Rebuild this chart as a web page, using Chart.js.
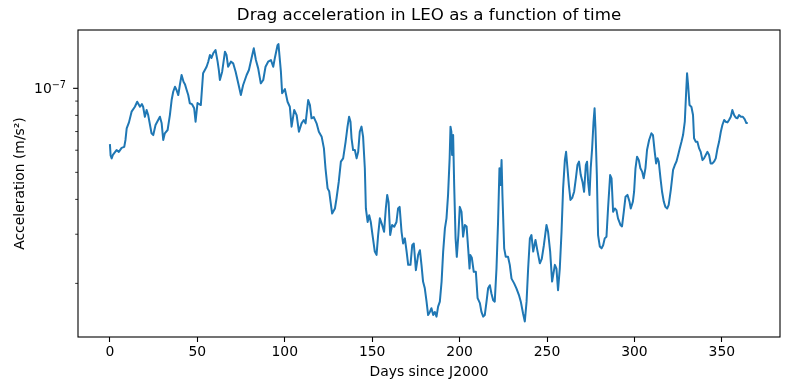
<!DOCTYPE html>
<html>
<head>
<meta charset="utf-8">
<script src="https://cdn.jsdelivr.net/npm/chart.js@4/dist/chart.umd.min.js"></script>
<style>
html,body{margin:0;padding:0;background:#fff;}
#wrap{width:790px;height:390px;}
</style>
</head>
<body>
<div id="wrap"><canvas id="c" width="790" height="390"></canvas></div>
<script>
// ---- data ----
const titleText = 'Drag acceleration in LEO as a function of time';
const xLabel = 'Days since J2000';
const yLabel = 'Acceleration (m/s\u00B2)';

// days since J2000
const days = [
0,0.4,1.0,1.7,3.8,5.1,6.7,8.2,8.9,9.6,10.9,12.4,14.3,15.6,17.2,18.3,19.0,20.0,21.0,21.9,
23.8,24.8,26.1,27.6,28.6,29.6,30.5,31.4,33.0,34.3,35.3,36.2,37.2,38.1,39.1,40.0,41.0,42.1,42.9,43.9,
44.8,45.7,46.9,48.2,49.0,50.1,52.0,53.3,54.3,55.3,56.2,57.2,58.1,59.1,60.4,61.6,62.3,62.9,64.2,65.8,
66.7,67.6,69.2,70.5,71.9,73.4,74.9,76.2,78.2,79.5,81.0,82.3,83.5,84.8,86.3,87.7,89.0,90.5,92.1,93.4,
94.3,95.9,96.4,97.8,98.5,100.1,101.6,102.9,103.9,105.4,106.8,108.1,109.6,110.9,111.9,113.4,114.4,115.3,116.6,118.2,
119.5,121.1,122.4,123.3,124.5,125.4,126.2,127.1,128.7,129.6,130.9,132.1,133.4,134.8,135.9,136.8,137.6,138.2,139.1,140.1,
141.1,142.0,142.9,143.9,144.8,145.8,146.4,147.4,148.3,149.2,150.2,151.5,152.5,153.4,154.4,155.7,156.8,157.8,158.6,159.4,
160.3,161.4,162.6,163.9,164.8,165.7,166.8,167.7,168.7,169.7,170.6,171.9,172.9,173.8,175.0,176.3,177.3,178.2,179.1,180.1,
181.1,182.0,183.0,183.9,184.9,185.8,186.8,187.7,188.7,189.7,190.6,191.6,192.5,193.4,194.3,194.8,195.3,195.7,196.3,196.9,
197.7,198.4,199.3,200.1,201.1,202.0,203.0,204.0,204.9,205.7,206.1,207.0,208.1,209.3,210.3,211.6,212.5,213.5,214.4,215.4,
216.3,217.3,218.2,219.2,220.1,221.1,222.0,222.8,223.4,224.0,224.5,225.5,226.4,227.7,228.7,229.7,231.2,232.5,233.9,235.0,
236.3,237.3,238.3,239.2,240.2,241.1,242.1,243.4,244.6,245.9,247.0,248.2,249.7,250.6,251.8,252.9,254.5,255.4,256.3,257.3,
258.3,259.2,260.2,260.9,261.7,262.5,263.4,264.4,265.5,266.5,267.4,268.3,269.3,270.3,271.2,272.2,272.9,273.5,274.3,275.0,
275.8,276.6,277.2,277.7,278.5,279.2,280.2,281.2,282.1,283.0,284.0,284.9,286.1,286.9,287.8,288.8,289.7,290.6,292.0,292.9,
293.9,294.9,296.0,297.2,297.9,299.1,299.8,300.6,301.5,302.5,303.4,304.4,305.3,306.3,307.2,308.4,309.7,310.6,311.6,312.4,
313.2,313.9,314.9,315.8,316.8,317.7,318.7,319.6,320.8,322.1,323.1,324.0,325.0,325.9,326.9,327.8,328.8,329.5,330.1,330.7,
331.5,332.6,333.5,334.1,335.1,336.0,337.0,337.9,338.9,339.8,340.8,341.7,342.7,343.6,344.6,345.5,346.5,347.5,348.4,349.4,
350.3,351.3,352.2,353.2,354.1,355.1,356.0,357.0,357.9,358.9,359.8,360.9,362.0,363.1,364.0,364.8
];

// drag acceleration, in units of 1e-8 m/s^2
const accelE8 = [
6.31,5.75,5.61,5.77,6.01,5.92,6.12,6.17,6.53,7.19,7.55,8.25,8.59,8.95,8.59,8.78,8.59,7.91,8.36,8.02,
6.90,6.80,7.39,7.70,7.91,7.49,6.53,6.90,7.09,8.02,9.08,9.72,10.13,9.86,9.46,10.28,11.16,10.56,10.35,9.86,
9.46,8.84,8.78,8.48,7.59,8.86,8.71,11.32,11.63,11.95,12.43,13.16,12.84,13.35,13.72,12.46,11.63,10.71,11.47,13.53,
13.16,11.95,12.46,12.29,11.47,10.42,9.46,10.28,11.16,11.63,12.81,13.91,12.63,11.79,10.42,10.71,11.95,12.46,12.63,11.95,
12.81,14.29,14.41,11.47,9.60,9.93,8.95,8.59,7.29,8.36,8.02,6.99,7.49,7.70,7.49,9.08,8.71,7.81,7.89,7.49,
6.99,6.71,6.09,5.17,4.38,4.28,3.92,3.56,3.71,4.03,4.63,5.46,5.61,6.43,7.29,7.91,7.59,6.62,6.01,6.01,
5.61,5.92,6.99,7.29,6.71,5.17,3.71,3.32,3.51,3.32,2.98,2.60,2.53,2.98,3.42,3.24,3.06,3.71,4.15,3.90,
2.98,3.24,3.19,3.32,3.71,3.76,3.06,2.78,2.90,2.60,2.33,2.33,2.74,2.78,2.23,2.53,2.63,2.33,2.03,1.92,
1.72,1.54,1.58,1.63,1.54,1.58,1.52,1.65,1.72,2.03,2.60,3.15,3.42,4.15,5.61,7.29,6.99,5.77,6.80,4.50,
2.90,2.49,2.98,3.76,3.61,2.94,3.24,3.20,2.67,2.26,2.53,2.47,2.20,2.20,1.77,1.70,1.58,1.52,1.54,1.72,
1.92,1.97,1.84,1.74,1.72,2.26,3.32,5.17,4.50,5.53,4.15,2.67,2.49,2.49,2.33,2.08,2.00,1.92,1.82,1.72,
1.56,1.46,1.72,2.26,2.90,2.98,2.60,2.86,2.60,2.36,2.45,2.74,3.24,3.06,2.60,2.03,2.33,2.26,1.89,2.26,
3.06,4.38,5.53,5.92,5.17,4.50,3.98,4.05,4.26,4.76,5.31,5.46,4.89,4.62,4.26,5.31,5.46,4.63,4.15,5.18,
6.09,7.59,8.48,7.19,4.89,2.98,2.71,2.67,2.74,2.90,2.94,3.71,4.89,4.76,3.61,3.71,3.66,3.42,3.24,3.20,
3.61,4.09,4.15,3.92,3.71,3.92,4.26,5.17,5.69,5.53,5.17,5.03,4.76,5.18,6.01,6.53,6.90,6.80,5.92,5.38,
5.62,5.46,4.76,4.26,3.92,3.76,3.71,3.82,4.33,5.10,5.31,5.46,5.77,6.09,6.43,6.80,7.59,9.46,11.32,10.28,
8.71,8.57,8.02,6.62,6.43,6.43,6.09,5.92,5.53,5.61,5.77,5.92,5.77,5.38,5.38,5.46,5.61,6.09,6.43,6.99,
7.39,7.70,7.59,7.55,7.70,7.91,8.36,8.02,7.86,7.81,8.02,7.91,7.91,7.74,7.51,7.51
];

// axis ticks
const xTickValues = [0, 50, 100, 150, 200, 250, 300, 350];
const yMajorTicks = [1e-7];
const yMajorLabels = [['10', '\u22127']];
const yMinorTicks = [2e-8, 3e-8, 4e-8, 5e-8, 6e-8, 7e-8, 8e-8, 9e-8];

// axis limits (matplotlib-style 5% margins)
const xMin = -18.25, xMax = 383.25;
const yMin = 1.285e-8, yMax = 1.618e-7;

// ---- chart ----
const FONT = 'DejaVu Sans';
Chart.defaults.font.family = FONT;
Chart.defaults.color = '#000';

const points = days.map((d, i) => ({ x: d, y: accelE8[i] * 1e-8 }));

const framePlugin = {
  id: 'frame',
  afterDraw(chart) {
    const { ctx, chartArea: a } = chart;
    const y = chart.scales.y;
    ctx.save();
    ctx.strokeStyle = '#000';
    ctx.lineWidth = 1.1;
    ctx.strokeRect(a.left, a.top, a.right - a.left, a.bottom - a.top);
    // minor y ticks
    ctx.lineWidth = 0.8;
    yMinorTicks.forEach(v => {
      const py = y.getPixelForValue(v);
      ctx.beginPath(); ctx.moveTo(a.left - 2.8, py); ctx.lineTo(a.left, py); ctx.stroke();
    });
    // major y ticks + labels
    ctx.lineWidth = 1.1;
    yMajorTicks.forEach((v, i) => {
      const py = y.getPixelForValue(v);
      ctx.beginPath(); ctx.moveTo(a.left - 4.9, py); ctx.lineTo(a.left, py); ctx.stroke();
      const [base, exp] = yMajorLabels[i];
      ctx.fillStyle = '#000';
      ctx.textBaseline = 'alphabetic';
      ctx.font = '9.7px "' + FONT + '"';
      const we = ctx.measureText(exp).width;
      ctx.font = '13.9px "' + FONT + '"';
      const wb = ctx.measureText(base).width;
      const right = a.left - 12;
      ctx.textAlign = 'left';
      ctx.fillText(base, right - we - wb, py + 5);
      ctx.font = '9.7px "' + FONT + '"';
      ctx.fillText(exp, right - we, py);
    });
    ctx.restore();
  }
};

new Chart(document.getElementById('c'), {
  type: 'line',
  data: {
    datasets: [{
      data: points,
      borderColor: '#1f77b4',
      borderWidth: 2,
      pointRadius: 0,
      tension: 0,
      fill: false,
      borderJoinStyle: 'round'
    }]
  },
  options: {
    responsive: false,
    animation: false,
    devicePixelRatio: 1,
    layout: { padding: { left: 0, right: 10, top: 0, bottom: 0 } },
    plugins: {
      legend: { display: false },
      tooltip: { enabled: false },
      title: {
        display: true,
        text: titleText,
        fullSize: false,
        color: '#000',
        font: { family: FONT, size: 16.67, weight: 'normal', lineHeight: 1.2 },
        padding: { top: 6, bottom: 4 }
      }
    },
    scales: {
      x: {
        type: 'linear',
        min: xMin, max: xMax,
        afterBuildTicks: s => { s.ticks = xTickValues.map(v => ({ value: v })); },
        afterFit: s => { s.height = 53; },
        grid: { display: true, drawOnChartArea: false, drawTicks: true, tickLength: 5, tickColor: '#000', tickWidth: 1.1 },
        border: { display: false },
        ticks: { color: '#000', font: { family: FONT, size: 13.9 }, padding: 2, maxRotation: 0, autoSkip: false },
        title: { display: true, text: xLabel, color: '#000', font: { family: FONT, size: 13.9 }, padding: { top: 0, bottom: 9.6 } }
      },
      y: {
        type: 'logarithmic',
        min: yMin, max: yMax,
        afterFit: s => { s.width = 78; },
        grid: { display: false },
        border: { display: false },
        ticks: { display: false },
        title: { display: true, text: yLabel, color: '#000', font: { family: FONT, size: 13.9 }, padding: { top: 11.6, bottom: 0 } }
      }
    }
  },
  plugins: [framePlugin]
});
</script>
</body>
</html>
